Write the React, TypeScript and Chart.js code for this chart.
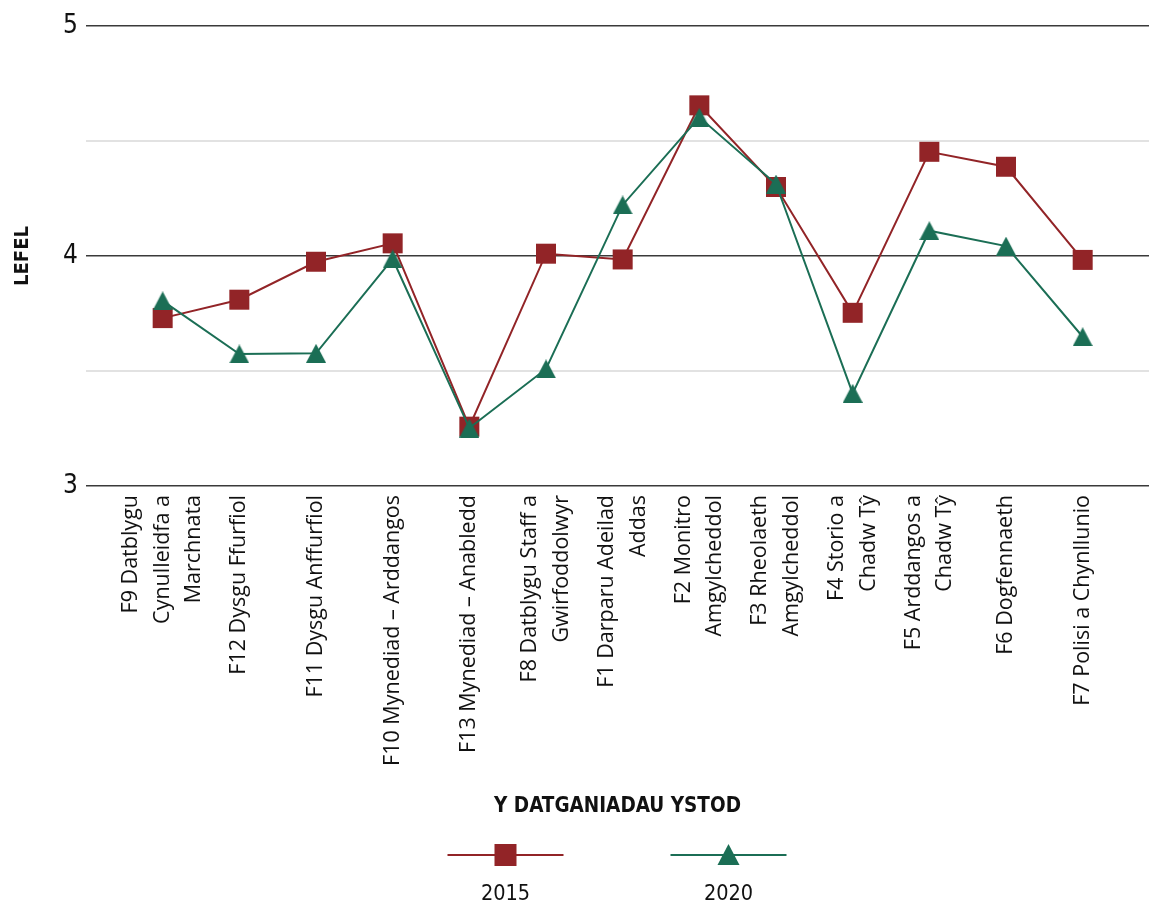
import React, { useEffect, useRef } from "react";
import { Chart, registerables } from "chart.js";

Chart.register(...registerables);

const CATEGORIES: string[][] = [
  ["F9 Datblygu", "Cynulleidfa a", "Marchnata"],
  ["F12 Dysgu Ffurfiol"],
  ["F11 Dysgu Anffurfiol"],
  ["F10 Mynediad – Arddangos"],
  ["F13 Mynediad – Anabledd"],
  ["F8 Datblygu Staff a", "Gwirfoddolwyr"],
  ["F1 Darparu Adeilad", "Addas"],
  ["F2 Monitro", "Amgylcheddol"],
  ["F3 Rheolaeth", "Amgylcheddol"],
  ["F4 Storio a", "Chadw Tŷ"],
  ["F5 Arddangos a", "Chadw Tŷ"],
  ["F6 Dogfennaeth"],
  ["F7 Polisi a Chynllunio"],
];

const SERIES_NAMES = ["2015", "2020"];
const VALUES_2015 = [3.73, 3.81, 3.975, 4.055, 3.258, 4.01, 3.985, 4.655, 4.3, 3.753, 4.453, 4.388, 3.983];
const VALUES_2020 = [3.805, 3.574, 3.577, 3.987, 3.252, 3.509, 4.222, 4.603, 4.313, 3.403, 4.11, 4.043, 3.649];

const Y_MIN = 3;
const Y_MAX = 5;
const Y_STEP = 0.5;

const X_TITLE = "Y DATGANIADAU YSTOD";
const Y_TITLE = "LEFEL";

const RED = "#922427";
const GREEN = "#1b6e55";
const NARROW = "'DejaVu Sans Condensed', 'Liberation Sans Narrow', Roboto, sans-serif";
const LABEL_FONT = "'Open Sans', 'Noto Sans', sans-serif";

function triangleCanvas(w: number, h: number, color: string): HTMLCanvasElement {
  const c = document.createElement("canvas");
  c.width = w;
  c.height = h;
  const g = c.getContext("2d")!;
  g.fillStyle = color;
  g.beginPath();
  g.moveTo(0, h);
  g.lineTo(w / 2, 0);
  g.lineTo(w, h);
  g.closePath();
  g.fill();
  return c;
}

export default function App() {
  const ref = useRef<HTMLCanvasElement | null>(null);

  useEffect(() => {
    if (!ref.current) return;
    const tri = triangleCanvas(20, 19, GREEN);

    const overlay = {
      id: "overlay",
      afterDraw(chart: any) {
        const { ctx, chartArea, scales } = chart;
        const xs = scales.x;
        const cx = (chartArea.left + chartArea.right) / 2;
        ctx.save();
        ctx.fillStyle = "#111";
        // category labels
        ctx.font = `21.5px ${LABEL_FONT}`;
        ctx.textAlign = "right";
        ctx.textBaseline = "middle";
        const lh = 31.5;
        CATEGORIES.forEach((lines, i) => {
          const px = xs.getPixelForValue(i);
          ctx.save();
          ctx.translate(px, chartArea.bottom + 9);
          ctx.rotate(-Math.PI / 2);
          lines.forEach((t, j) => {
            ctx.fillText(t, 0, (j - (lines.length - 1) / 2) * lh);
          });
          ctx.restore();
        });
        // y title
        ctx.font = `bold 20px ${NARROW}`;
        ctx.textAlign = "center";
        ctx.save();
        ctx.translate(23, (chartArea.top + chartArea.bottom) / 2);
        ctx.rotate(-Math.PI / 2);
        ctx.fillText(Y_TITLE, 0, 0);
        ctx.restore();
        // x title
        ctx.font = `bold 20.5px ${NARROW}`;
        ctx.fillText(X_TITLE, cx, 807);
        // legend
        const items = [
          { name: SERIES_NAMES[0], color: RED, x: cx - 112, kind: "square" },
          { name: SERIES_NAMES[1], color: GREEN, x: cx + 111, kind: "triangle" },
        ];
        items.forEach((it) => {
          ctx.strokeStyle = it.color;
          ctx.lineWidth = 2;
          ctx.beginPath();
          ctx.moveTo(it.x - 58, 855);
          ctx.lineTo(it.x + 58, 855);
          ctx.stroke();
          ctx.fillStyle = it.color;
          if (it.kind === "square") {
            ctx.fillRect(it.x - 11, 844, 22, 22);
          } else {
            ctx.beginPath();
            ctx.moveTo(it.x - 11, 865);
            ctx.lineTo(it.x, 844);
            ctx.lineTo(it.x + 11, 865);
            ctx.closePath();
            ctx.fill();
          }
          ctx.fillStyle = "#111";
          ctx.font = `21.5px ${NARROW}`;
          ctx.fillText(it.name, it.x, 894);
        });
        ctx.restore();
      },
    };

    const chart = new Chart(ref.current, {
      type: "line",
      data: {
        datasets: [
          {
            label: SERIES_NAMES[0],
            data: VALUES_2015.map((v, i) => ({ x: i, y: v })),
            borderColor: RED,
            backgroundColor: RED,
            borderWidth: 2,
            pointStyle: "rect",
            pointRadius: 14.14,
            pointBorderWidth: 0,
            pointBackgroundColor: RED,
            order: 1,
          },
          {
            label: SERIES_NAMES[1],
            data: VALUES_2020.map((v, i) => ({ x: i, y: v })),
            borderColor: GREEN,
            backgroundColor: GREEN,
            borderWidth: 2,
            pointStyle: tri,
            pointRadius: 10,
            pointBorderWidth: 0,
            order: 0,
          },
        ],
      },
      options: {
        responsive: false,
        animation: false,
        layout: { autoPadding: false, padding: { top: 26, left: 0, right: 0, bottom: 418 } },
        plugins: {
          legend: { display: false },
          tooltip: { enabled: false },
        },
        scales: {
          x: {
            type: "linear",
            display: false,
            min: -1,
            max: CATEGORIES.length - 0.135,
          },
          y: {
            min: Y_MIN,
            max: Y_MAX,
            border: { display: false },
            grid: {
              drawTicks: false,
              color: (c: any) => (Number.isInteger(c.tick.value) ? "#3a3a3a" : "#e2e2e2"),
              lineWidth: (c: any) => (Number.isInteger(c.tick.value) ? 1.6 : 2),
            },
            ticks: {
              stepSize: Y_STEP,
              padding: 8,
              color: "#111",
              font: { family: NARROW, size: 26 },
              callback: (v: any) => (Number.isInteger(v) ? String(v) : ""),
            },
            afterFit: (s: any) => {
              s.width = 86;
            },
          },
        },
      },
      plugins: [overlay],
    });
    return () => chart.destroy();
  }, []);

  return (
    <div style={{ position: "absolute", left: 0, top: 0, width: 1149, height: 904 }}>
      <canvas ref={ref} width={1149} height={904} />
    </div>
  );
}
